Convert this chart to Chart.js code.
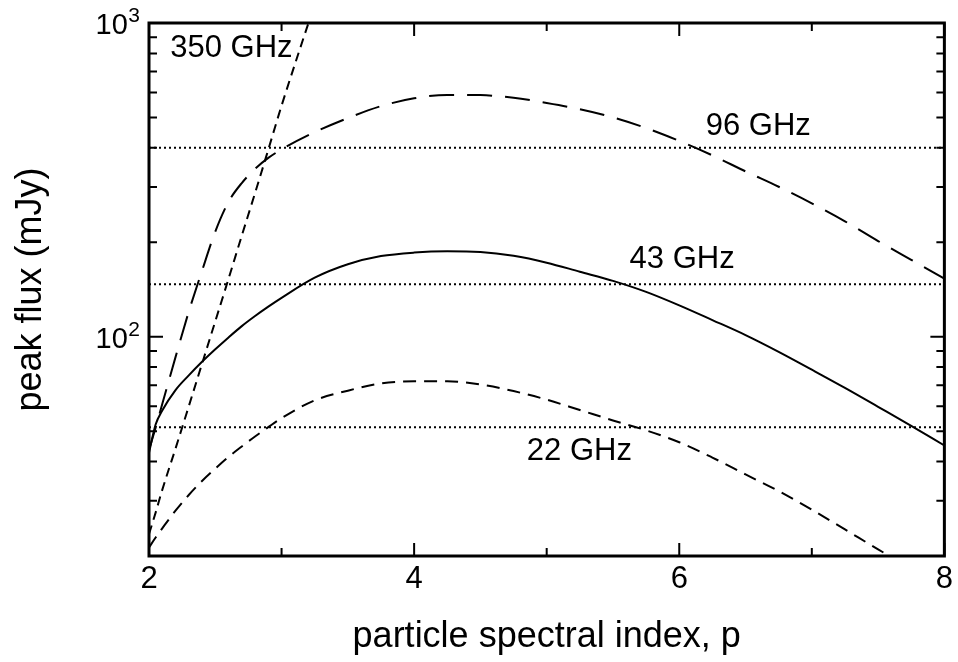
<!DOCTYPE html>
<html><head><meta charset="utf-8">
<script src="https://cdn.jsdelivr.net/npm/chart.js@4/dist/chart.umd.min.js"></script>
<style>html,body{margin:0;padding:0;background:#fff;}#wrap{width:958px;height:662px;}</style>
</head><body><div id="wrap"><canvas id="c" width="958" height="662"></canvas></div>
<script>
// particle spectral index grid
const pIndex = [2.0, 2.05, 2.1, 2.2, 2.3, 2.4, 2.5, 2.6, 2.7, 2.8, 2.9, 3.0, 3.25, 3.5, 3.75, 4.0, 4.25, 4.5, 4.75, 5.0, 5.25, 5.5, 5.75, 6.0, 6.25, 6.5, 6.75, 7.0, 7.25, 7.5, 7.75, 8.0];
// peak flux (mJy) per frequency
const flux22 = [21.3, 22.9, 24.5, 27.9, 31.3, 34.7, 38.0, 41.4, 44.7, 48.1, 51.5, 55.0, 62.7, 67.3, 71.0, 72.1, 72.1, 70.4, 67.1, 63.0, 58.4, 54.1, 50.3, 46.1, 41.2, 36.4, 32.2, 28.1, 24.3, 21.0, 18.2, 15.8];
const flux43 = [42.7, 52.5, 58.2, 67.6, 75.3, 83.2, 91.2, 99.5, 108.1, 116.4, 124.7, 133.0, 154.2, 170.2, 180.7, 185.4, 187.1, 186.2, 181.1, 172.2, 161.1, 150.7, 139.0, 125.9, 113.0, 101.2, 89.5, 78.5, 68.7, 59.8, 52.0, 45.0];
const flux96 = [43.6, 51.3, 61.0, 86.1, 120.2, 162.2, 216.3, 269.2, 309, 342.8, 371.5, 395.4, 448.7, 497.7, 543.3, 575.4, 590, 589, 578, 555.9, 530.9, 500, 462.4, 420.7, 378.4, 336.5, 300.6, 266.1, 233.3, 201.8, 175.8, 153.1];
const flux350 = [23.5, 27.5, 32.5, 44, 60, 82, 112, 153, 210, 287, 395, 545, 1150, null, null, null, null, null, null, null, null, null, null, null, null, null, null, null, null, null, null, null];
// horizontal reference (observed) levels: 22, 43, 96 GHz
const refLevels = [51.5, 147, 400];
// axis ticks
const xTicks = [2, 3, 4, 5, 6, 7, 8];
const xLabelTicks = [2, 4, 6, 8];
const yTicks = [20, 30, 40, 50, 60, 70, 80, 90, 100, 200, 300, 400, 500, 600, 700, 800, 900, 1000];
const yMajorTicks = [100, 1000];
// annotations
const noteText = ['350 GHz', '96 GHz', '43 GHz', '22 GHz'];
const noteP = [2.16, 6.2, 5.625, 4.85];
const noteFlux = [830, 468, 176, 43.1];

const FONT = "'Liberation Sans', Arial, Helvetica, sans-serif";
Chart.defaults.font.family = FONT;
Chart.defaults.color = '#000';

const toXY = arr => pIndex.map((p, i) => ({x: p, y: arr[i]}));
const lineDs = (arr, dash) => ({
  data: toXY(arr), borderColor: '#000', borderWidth: 2, borderDash: dash,
  pointRadius: 0, fill: false, cubicInterpolationMode: 'monotone', spanGaps: false
});
const refDs = v => ({
  data: [{x: 2, y: v}, {x: 8, y: v}], borderColor: '#000', borderWidth: 2,
  borderDash: [2, 3], pointRadius: 0, fill: false
});

const framePlugin = {
  id: 'frame',
  afterDraw(chart) {
    const {ctx, chartArea: a, scales: {x, y}} = chart;
    ctx.save();
    ctx.strokeStyle = '#000';
    ctx.lineWidth = 2;
    ctx.beginPath();
    xTicks.forEach(v => {
      const px = x.getPixelForValue(v);
      const len = xLabelTicks.includes(v) ? 13 : 8;
      ctx.moveTo(px, a.bottom); ctx.lineTo(px, a.bottom - len);
      ctx.moveTo(px, a.top); ctx.lineTo(px, a.top + len);
    });
    yTicks.forEach(v => {
      const py = y.getPixelForValue(v);
      const len = yMajorTicks.includes(v) ? 14 : 8;
      ctx.moveTo(a.left, py); ctx.lineTo(a.left + len, py);
      ctx.moveTo(a.right, py); ctx.lineTo(a.right - len, py);
    });
    ctx.stroke();
    ctx.lineWidth = 3;
    ctx.strokeRect(a.left, a.top, a.right - a.left, a.bottom - a.top);
    // y tick labels with superscripts
    ctx.fillStyle = '#000';
    ctx.textBaseline = 'alphabetic';
    ctx.textAlign = 'right';
    yMajorTicks.forEach(v => {
      const py = y.getPixelForValue(v);
      const exp = String(Math.round(Math.log10(v)));
      ctx.font = '21px ' + FONT;
      const w = ctx.measureText(exp).width;
      ctx.fillText(exp, a.left - 9, py - 1);
      ctx.font = '29px ' + FONT;
      ctx.fillText('10', a.left - 9 - w - 0.5, py + 11);
    });
    // curve labels
    ctx.font = '31px ' + FONT;
    ctx.textAlign = 'left';
    ctx.textBaseline = 'middle';
    noteText.forEach((t, i) => {
      ctx.fillText(t, x.getPixelForValue(noteP[i]), y.getPixelForValue(noteFlux[i]));
    });
    ctx.restore();
  }
};

new Chart(document.getElementById('c'), {
  type: 'line',
  data: {
    datasets: [
      lineDs(flux43, []),
      lineDs(flux22, [13, 8]),
      lineDs(flux96, [25, 13]),
      lineDs(flux350, [9, 6]),
      ...refLevels.map(refDs)
    ]
  },
  options: {
    responsive: false,
    devicePixelRatio: 1,
    animation: false,
    events: [],
    layout: {padding: {top: 23, right: 10, bottom: 0, left: 0}},
    plugins: {legend: {display: false}, tooltip: {enabled: false}},
    scales: {
      x: {
        type: 'linear', min: 2, max: 8,
        ticks: {stepSize: 1, autoSkip: false, maxRotation: 0, font: {size: 31}, color: '#000', padding: 5,
          callback: v => xLabelTicks.includes(v) ? String(v) : ''},
        grid: {display: false, drawTicks: false},
        border: {display: false},
        title: {display: true, text: 'particle spectral index, p', font: {size: 36}, color: '#000', padding: {top: 0, bottom: 3}},
        afterFit: s => { s.height = 106; }
      },
      y: {
        type: 'logarithmic', min: 20, max: 1000,
        ticks: {display: false, autoSkip: false},
        grid: {display: false, drawTicks: false},
        border: {display: false},
        title: {display: true, text: 'peak flux (mJy)', font: {size: 36}, color: '#000', padding: {top: 9, bottom: 0}},
        afterFit: s => { s.width = 149; }
      }
    }
  },
  plugins: [framePlugin]
});
</script>
</body></html>
